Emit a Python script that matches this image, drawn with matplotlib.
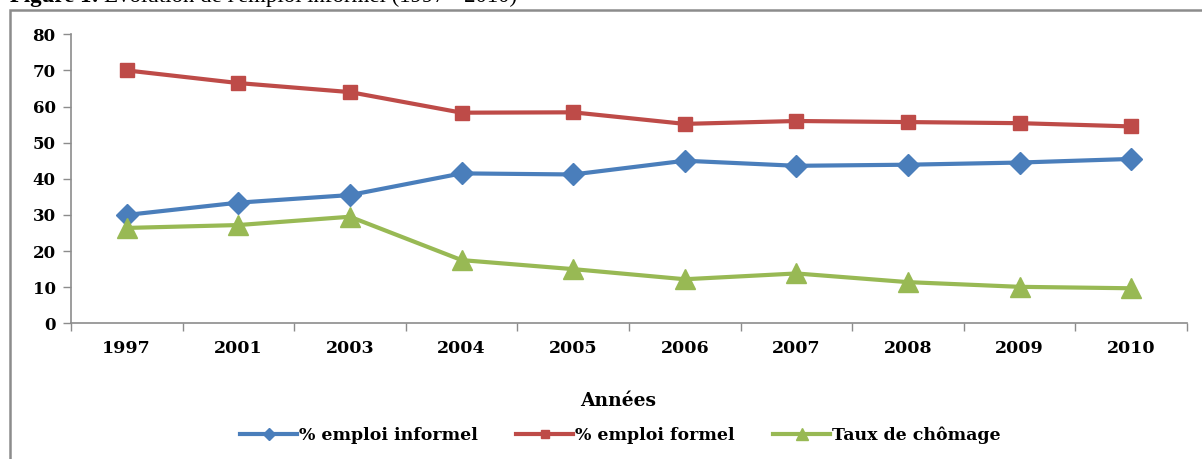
import numpy as np
import matplotlib
matplotlib.use("Agg")
import matplotlib.pyplot as plt
from matplotlib.patches import Rectangle

# data
annees = ["1997", "2001", "2003", "2004", "2005", "2006", "2007", "2008", "2009", "2010"]
emploi_informel = [30.0, 33.4, 35.5, 41.5, 41.2, 45.0, 43.6, 43.9, 44.5, 45.5]
emploi_formel = [70.0, 66.5, 64.0, 58.3, 58.4, 55.2, 56.0, 55.7, 55.4, 54.5]
taux_chomage = [26.4, 27.2, 29.5, 17.5, 15.0, 12.2, 13.8, 11.4, 10.1, 9.7]
y_ticks = [0, 10, 20, 30, 40, 50, 60, 70, 80]

BLUE = "#4A7EBB"
RED = "#BE4B48"
GREEN = "#98B954"
GRAY = "#8C8C8C"
WIDE_SERIF = ["DejaVu Serif"]
SERIF = ["Liberation Serif", "DejaVu Serif"]

plt.rcParams["font.family"] = WIDE_SERIF

fig = plt.figure(figsize=(12.02, 4.59), dpi=100)
ax = fig.add_axes([0.059, 0.2956, 0.9285, 0.6297])

x = np.arange(len(annees))
ax.plot(x, emploi_informel, color=BLUE, lw=3, marker="D", ms=11.5, mec=BLUE,
        label="% emploi informel")
ax.plot(x, emploi_formel, color=RED, lw=3, marker="s", ms=9.5, mec=RED,
        label="% emploi formel")
ax.plot(x, taux_chomage, color=GREEN, lw=3, marker="^", ms=15, mec=GREEN,
        label="Taux de chômage")

ax.set_xlim(-0.5, len(annees) - 0.5)
ax.set_ylim(0, 80)

# excel style: ticks between categories, labels in the middle
ax.set_xticks(np.arange(-0.5, len(annees), 1.0))
ax.set_xticklabels([])
ax.set_xticks(x, minor=True)
ax.set_xticklabels(annees, minor=True, fontsize=12.5, fontweight="bold")
ax.tick_params(axis="x", which="minor", length=0, pad=12)
ax.tick_params(axis="x", which="major", length=6, color=GRAY, width=1)

ax.set_yticks(y_ticks)
ax.set_yticklabels([str(v) for v in y_ticks], fontsize=12, fontweight="bold")
ax.tick_params(axis="y", length=6, color=GRAY, width=1, pad=5)

for side in ["top", "right"]:
    ax.spines[side].set_visible(False)
for side in ["left", "bottom"]:
    ax.spines[side].set_color(GRAY)
    ax.spines[side].set_linewidth(1.2)

fig.text(0.514, 1 - 401 / 459, "Années", ha="center", va="center",
         fontsize=13.5, fontweight="bold")

leg = fig.legend(loc="center", bbox_to_anchor=(0.516, 1 - 435 / 459), ncol=3,
                 frameon=False, prop={"size": 12.5, "weight": "bold"},
                 handlelength=3.3, handletextpad=0.1, columnspacing=2.2,
                 markerscale=0.55)

# frame around the chart, cut by the image edges
fig.patches.append(Rectangle((10 / 1202, -0.05), 1.2, 1 - 10 / 459 + 0.05,
                             transform=fig.transFigure, fill=False,
                             edgecolor=GRAY, lw=1.8, clip_on=False))

# caption, only its lower part is visible
t1 = fig.text(10 / 1202, 1 - 2 / 459, "Figure 1:", fontsize=16.5,
              fontweight="bold", va="baseline", family=SERIF)
fig.canvas.draw()
bb = t1.get_window_extent()
fig.text(bb.x1 / fig.bbox.width + 0.004, 1 - 2 / 459,
         "Évolution de l'emploi informel (1997 - 2010)", fontsize=16.5,
         va="baseline", family=SERIF)

fig.savefig("out.png", dpi=100)
